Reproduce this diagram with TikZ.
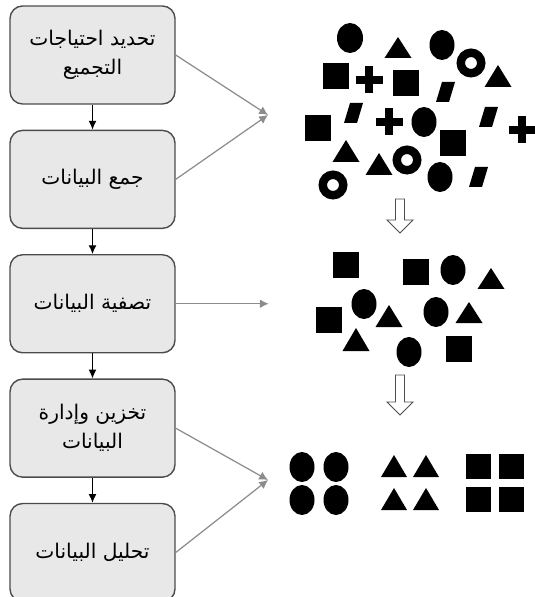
\documentclass[tikz,border=0pt]{standalone}
\usepackage{fontspec}
\newfontfamily\arabicfont[Script=Arabic]{DejaVu Sans}
\TeXXeTstate=1
\usetikzlibrary{arrows.meta}
\usetikzlibrary{positioning}

\begin{document}
\begin{tikzpicture}[x=0.02cm,y=-0.02cm,
  stage/.style={draw=black!70,fill=black!9,line width=0.8pt,rounded corners=0.25cm,
    minimum width=3.3cm,minimum height=1.96cm,align=center,
    font=\arabicfont\fontsize{11.5}{16.5}\selectfont},
  flow/.style={black,line width=0.7pt,-{Latex[length=5pt,width=4.5pt]}},
  feed/.style={black!45,line width=0.7pt,-{Latex[length=5pt,width=5pt]}},
  hollow/.style={draw=black!70,fill=white,line width=0.5pt},
  ring/.style={black,line width=4.8pt},
  plus/.style={black,line width=4pt}]
\useasboundingbox (0,0) rectangle (534,597);

% stages
\node[stage] (needs) at (92.5,55) {\beginR تحديد احتياجات\endR\\\beginR التجميع\endR};
\node[stage,below=0.5cm of needs] (collect) {\beginR جمع البيانات\endR};
\node[stage,below=0.5cm of collect] (filter) {\beginR تصفية البيانات\endR};
\node[stage,below=0.5cm of filter] (store) {\beginR تخزين وإدارة\endR\\\beginR البيانات\endR};
\node[stage,below=0.5cm of store] (analyse) {\beginR تحليل البيانات\endR};

\draw[flow] (needs) -- (collect);
\draw[flow] (collect) -- (filter);
\draw[flow] (filter) -- (store);
\draw[flow] (store) -- (analyse);

\coordinate (mix) at (268,115);
\coordinate[right=1.86cm of filter.east] (sorted);
\coordinate (grouped) at (268,480);
\draw[feed] (needs.east) -- (mix);
\draw[feed] (collect.east) -- (mix);
\draw[feed] (filter.east) -- (sorted);
\draw[feed] (store.east) -- (grouped);
\draw[feed] (analyse.east) -- (grouped);

% mixed data
\fill (350,38) ellipse [x radius=13,y radius=15];
\fill (398,58) +(-13.5,0) -- +(13.5,0) -- +(0,-21) -- cycle;
\fill (442,45) ellipse [x radius=12.5,y radius=15];
\draw[ring] (471,63) circle [radius=10.25];
\fill (498,87) +(-13.5,0) -- +(13.5,0) -- +(0,-22) -- cycle;
\fill (336,76) +(-13,-13) rectangle +(13,13);
\draw[plus] (369,80) +(-13.5,0) -- +(13.5,0) +(0,-13.5) -- +(0,13.5);
\fill (406,83) +(-13,-13) rectangle +(13,13);
\fill (445,92) +(-9,10) -- +(4,10) -- +(10,-10) -- +(-3,-10) -- cycle;
\fill (318,128) +(-13,-13) rectangle +(13,13);
\fill (353,113) +(-9,10) -- +(4,10) -- +(10,-10) -- +(-3,-10) -- cycle;
\draw[plus] (389,122) +(-13.5,0) -- +(13.5,0) +(0,-13.5) -- +(0,13.5);
\fill (424,122) ellipse [x radius=12.5,y radius=15];
\fill (488,117) +(-9,10) -- +(4,10) -- +(10,-10) -- +(-3,-10) -- cycle;
\draw[plus] (522,130) +(-13.5,0) -- +(13.5,0) +(0,-13.5) -- +(0,13.5);
\fill (453,143) +(-13,-13) rectangle +(13,13);
\fill (346,162) +(-13.5,0) -- +(13.5,0) -- +(0,-22) -- cycle;
\fill (379,175) +(-13.5,0) -- +(13.5,0) -- +(0,-22) -- cycle;
\draw[ring] (407,160) circle [radius=10.25];
\fill (440,177) ellipse [x radius=12.5,y radius=15];
\fill (478,177) +(-9,10) -- +(4,10) -- +(10,-10) -- +(-3,-10) -- cycle;
\draw[ring] (333,185) circle [radius=10.25];

\draw[hollow] (400,199) +(-4.5,0) -- +(4.5,0) -- +(4.5,21) -- +(13,21) -- +(0,34) -- +(-13,21) -- +(-4.5,21) -- cycle;

% filtered data
\fill (346,265) +(-13,-13) rectangle +(13,13);
\fill (416,272) +(-13,-13) rectangle +(13,13);
\fill (453,270) ellipse [x radius=12.5,y radius=15];
\fill (491,289) +(-13.5,0) -- +(13.5,0) -- +(0,-21) -- cycle;
\fill (364,304) ellipse [x radius=12.5,y radius=15];
\fill (329,320) +(-13,-13) rectangle +(13,13);
\fill (389,327) +(-13.5,0) -- +(13.5,0) -- +(0,-22) -- cycle;
\fill (436,312) ellipse [x radius=12.5,y radius=15];
\fill (469,323) +(-13.5,0) -- +(13.5,0) -- +(0,-21) -- cycle;
\fill (356,351) +(-13.5,0) -- +(13.5,0) -- +(0,-23) -- cycle;
\fill (409,352) ellipse [x radius=12.5,y radius=15];
\fill (459,349) +(-13,-13) rectangle +(13,13);

\draw[hollow] (400,375) +(-4.5,0) -- +(4.5,0) -- +(4.5,27) -- +(13,27) -- +(0,40) -- +(-13,27) -- +(-4.5,27) -- cycle;

% grouped data
\fill (302,467) ellipse [x radius=12.5,y radius=15];
\fill (336,467) ellipse [x radius=12.5,y radius=15];
\fill (302,500) ellipse [x radius=12.5,y radius=15];
\fill (336,500) ellipse [x radius=12.5,y radius=15];
\fill (394,477) +(-13,0) -- +(13,0) -- +(0,-22) -- cycle;
\fill (426,477) +(-13,0) -- +(13,0) -- +(0,-22) -- cycle;
\fill (394,510) +(-13,0) -- +(13,0) -- +(0,-22) -- cycle;
\fill (426,510) +(-13,0) -- +(13,0) -- +(0,-22) -- cycle;
\fill (478,466) +(-12.5,-12.5) rectangle +(12.5,12.5);
\fill (511,466) +(-12.5,-12.5) rectangle +(12.5,12.5);
\fill (478,499) +(-12.5,-12.5) rectangle +(12.5,12.5);
\fill (511,499) +(-12.5,-12.5) rectangle +(12.5,12.5);

\end{tikzpicture}
\end{document}
